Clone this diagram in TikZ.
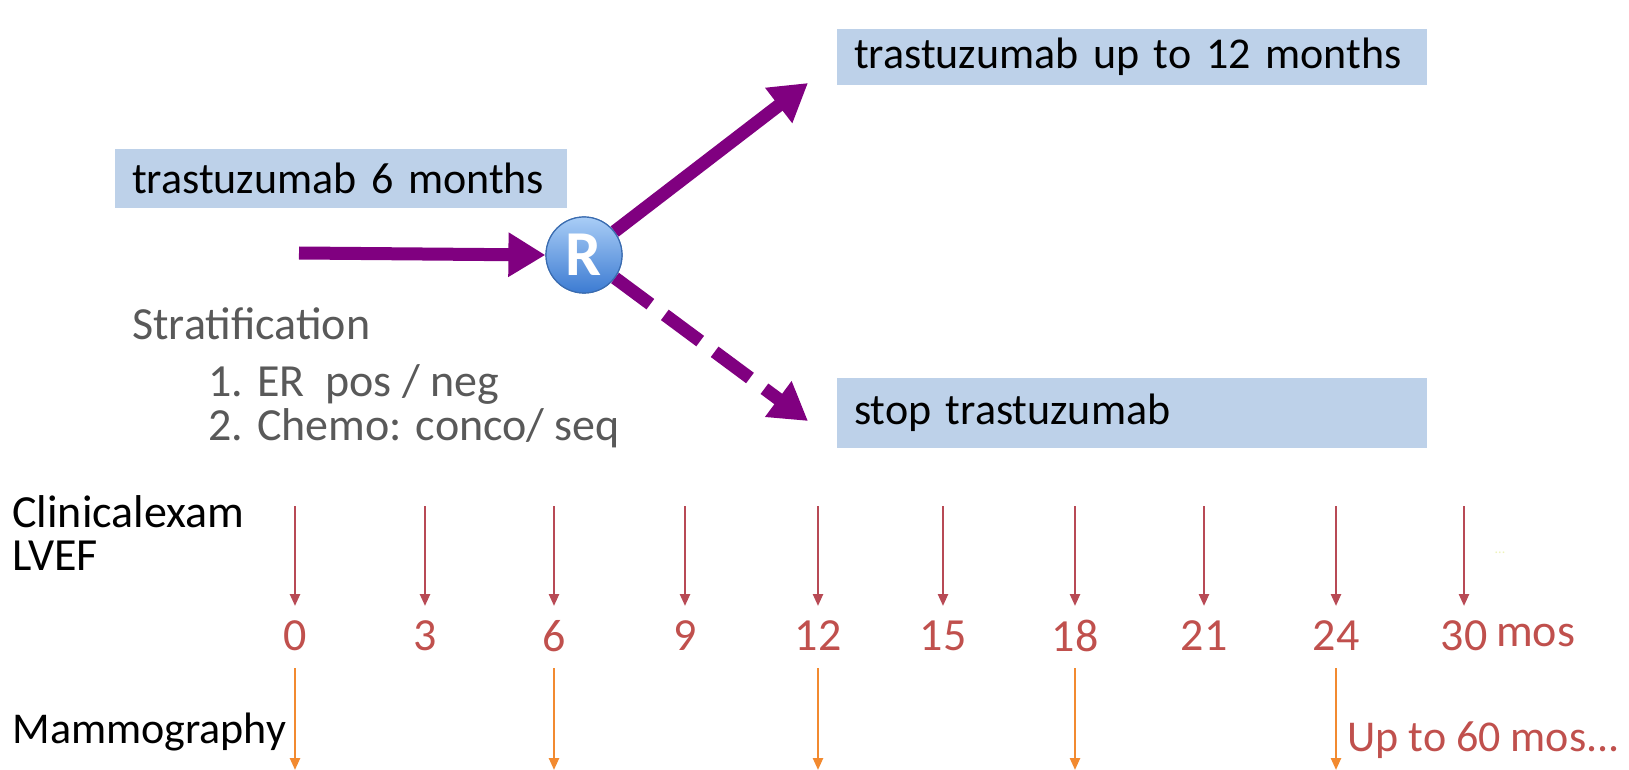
\documentclass[tikz,border=0pt]{standalone}
\usepackage{fontspec}
\setmainfont{Carlito}
\usetikzlibrary{arrows.meta}
\definecolor{boxblue}{HTML}{BDD1E9}
\definecolor{rpurple}{HTML}{800080}
\definecolor{stratgray}{HTML}{595959}
\definecolor{tickred}{HTML}{B84A55}
\definecolor{numred}{HTML}{C0504D}
\definecolor{mamorange}{HTML}{F28A30}
\definecolor{faintyellow}{HTML}{EEF3B8}
\definecolor{rtop}{HTML}{A9CDF6}
\definecolor{rbottom}{HTML}{3C7BD2}
\definecolor{rborder}{HTML}{3A6CB0}
\begin{document}
\begin{tikzpicture}[x=0.5pt,y=-0.5pt,
  bigfont/.style={font=\fontsize{23}{28}\selectfont},
  boxfont/.style={font=\fontsize{22}{26}\selectfont},
  bluebox/.style={fill=boxblue, boxfont, text=black, align=left, inner xsep=8.5pt, inner ysep=0pt},
  parrow/.style={draw=rpurple, line width=6.5pt, -{Triangle[length=18.5pt,width=21pt]}},
  redarrow/.style={draw=tickred, line width=1.2pt, -{Triangle[length=6pt,width=5pt]}},
  orarrow/.style={draw=mamorange, line width=1.2pt, -{Triangle[length=6pt,width=5pt]}},
  rball/.style={circle, minimum size=38pt, inner sep=0pt, top color=rtop, bottom color=rbottom, draw=rborder, line width=0.6pt, text=white, font=\fontsize{32}{36}\selectfont\bfseries},
  numlbl/.style={bigfont, text=numred, inner sep=0pt},
  leftlbl/.style={bigfont, text=black, anchor=west, inner sep=0pt},
  stratlbl/.style={bigfont, text=stratgray, anchor=west, inner sep=0pt}
]
\useasboundingbox (0,0) rectangle (1629,770);
\fill[white] (0,0) rectangle (1629,770);

% boxes
\node[bluebox, text width=278pt, minimum height=28pt] (top) at (1132,57) {\mbox{trastuzumab up to 12 months}};
\node[bluebox, text width=209pt, minimum height=29.5pt] (six) at (341,178.5) {\mbox{trastuzumab 6 months}};
\node[bluebox, text width=278pt, minimum height=35pt] (stop) at (1132,413) {\mbox{stop trastuzumab}};

% R circle
\node[rball] (R) at (584,255) {R};

% purple arrows
\coordinate (instart) at (299,253);
\coordinate (uptip) at (808,83);
\coordinate (dntip) at (808,421);
\draw[parrow] (instart) -- (R.west);
\draw[parrow] (R) -- (uptip);
\draw[parrow, dash pattern=on 22pt off 9pt] (R) -- (dntip);
\node[rball] at (R) {R};

% stratification
\node[stratlbl] (strat) at (132,324) {Stratification};
\node[stratlbl] (s1) at (208,384) {1. ER\ \ pos / neg};
\node[stratlbl] (s2) at (208,428) {2. Chemo: conco/ seq};

% left labels
\node[leftlbl] (clin) at (12,512) {Clinicalexam};
\node[leftlbl] (lvef) at (12,556) {LVEF};
\node[leftlbl, boxfont] (mammo) at (12,732) {Mammography};

% timeline
\foreach \x/\n/\name in {295/0/t0,425/3/t3,554/6/t6,685/9/t9,818/12/t12,943/15/t15,1075/18/t18,1204/21/t21,1336/24/t24,1464/30/t30}{
  \node[numlbl] (\name) at (\x,636) {\n};
  \coordinate (\name top) at (\x,506);
  \draw[redarrow] (\name top) -- (\x,606);
}
\node[numlbl, anchor=west] (mos) at ([xshift=4pt]t30.east) {mos};

\foreach \name in {t0,t6,t12,t18,t24}{
  \coordinate (\name bot) at (\name |- 0,770);
  \draw[orarrow] (\name |- 0,668) -- (\name bot);
}
\node[boxfont, text=numred, anchor=west, inner sep=0pt] (upto) at (1347,740) {Up to 60 mos...};
\node[text=faintyellow, font=\fontsize{7}{8}\selectfont, inner sep=0pt] (dots) at (1500,553) {...};
\end{tikzpicture}
\end{document}
